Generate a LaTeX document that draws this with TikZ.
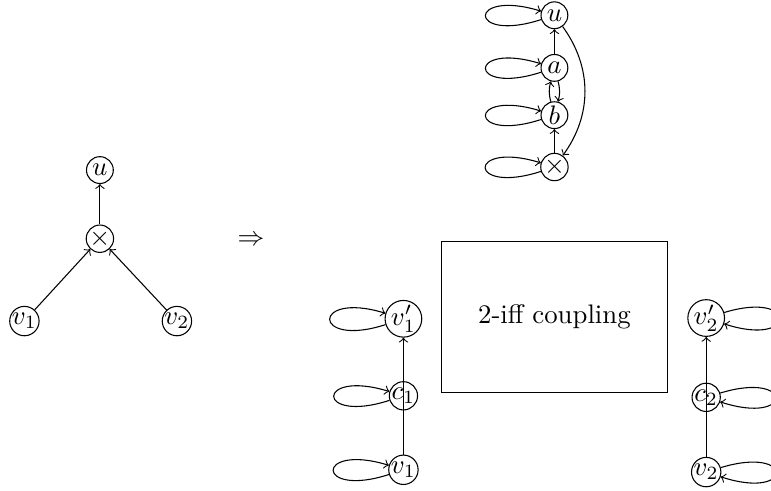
\documentclass[tikz,border=0pt]{standalone}
\usepackage{amsmath,amssymb}
\usepackage{tikz}
\usetikzlibrary{positioning,arrows}

\begin{document}
\begin{tikzpicture}[->,auto,state/.style={circle,draw,inner sep=0pt,minimum size=10pt},
    selfl/.style={out=198,in=163,distance=1.02cm},
    selfr/.style={out=17,in=-18,distance=1.02cm}]

    \useasboundingbox (0,0) rectangle (10.11,-6.43);

    % The graph
	\node [state] at (1.31,-2.23) (u) {$u$};
	\node [state] at (1.31,-3.13) (x) {$\times$};
	\node [state] at (0.32,-4.21) (v1) {$v_1$};
	\node [state] at (2.32,-4.21) (v2) {$v_2$};

	\node at (3.29,-3.15) (imp) {$\Rightarrow$};

	% The gadget
	\node [state] at (7.27,-0.20) (gu) {$u$};
	\node [state] at (7.27,-0.89) (ga) {$a$};
	\node [state] at (7.27,-1.51) (gb) {$b$};
	\node [state] at (7.27,-2.19) (gx) {$\times$};

	\node [draw,rectangle,minimum width=2.96cm,minimum height=1.98cm] at (7.27,-4.16) (box) {2-iff coupling};

	\node [state] at (5.29,-4.18) (vp1) {$v'_1$};
	\node [state] at (5.29,-5.19) (c1) {$c_1$};
	\node [state] at (5.29,-6.16) (w1) {$v_1$};

	\node [state] at (9.26,-4.17) (vp2) {$v'_2$};
	\node [state] at (9.26,-5.21) (c2) {$c_2$};
	\node [state] at (9.26,-6.19) (w2) {$v_2$};

	% Graph edges
	\path[->]
	(v1) edge (x)
	(v2) edge (x)
	(x) edge (u);

	\path[->]
	(ga) edge (gu)
	(ga) edge [bend left=15] (gb)
	(gb) edge [bend left=15] (ga)
	(gx) edge (gb)
	(gu) edge [bend left=36] (gx)
	(w1) edge (vp1)
	(w2) edge (vp2);

	% Self loops
	\path[->]
	(gu) edge [selfl] (gu)
	(ga) edge [selfl] (ga)
	(gb) edge [selfl] (gb)
	(gx) edge [selfl] (gx)
	(vp1) edge [selfl] (vp1)
	(c1) edge [selfl] (c1)
	(w1) edge [selfl] (w1)
	(vp2) edge [selfr] (vp2)
	(c2) edge [selfr] (c2)
	(w2) edge [selfr] (w2);

\end{tikzpicture}
\end{document}
